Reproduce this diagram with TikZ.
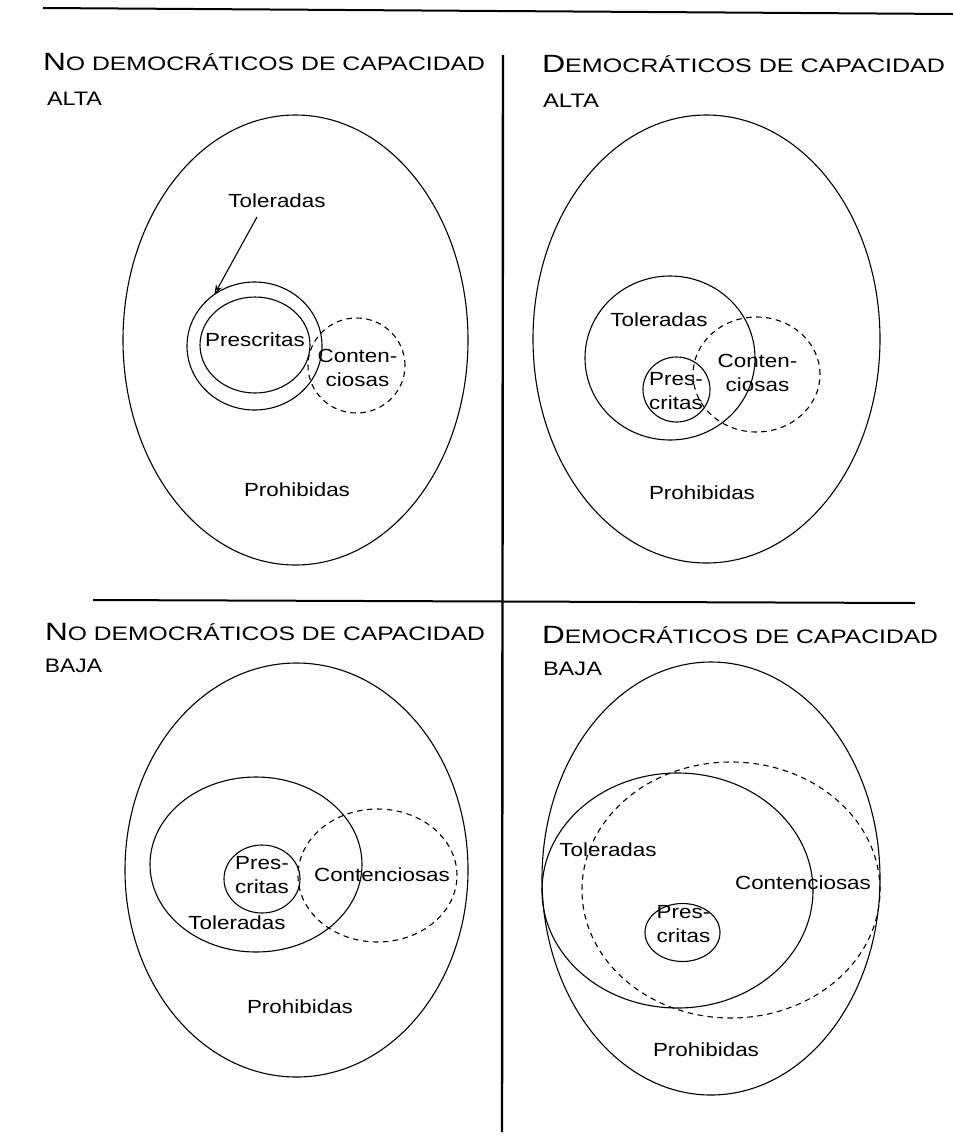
\documentclass[tikz,border=0pt]{standalone}
\usepackage{fontspec}
\setmainfont{Liberation Sans}
\usetikzlibrary{shapes.geometric,arrows.meta}
\newcommand{\capbig}[1]{{\fontsize{25}{27}\selectfont #1}}
\newcommand{\capsm}{\fontsize{19.5}{21}\selectfont}
\newcommand{\hdr}[2]{\resizebox{#1}{\height}{\capsm #2}}
\newcommand{\lbl}[1]{\scalebox{1.18}[1]{\fontsize{19}{21}\selectfont #1}}
\newcommand{\lbltwo}[2]{\scalebox{1.18}[1]{\fontsize{19}{24}\selectfont\begin{tabular}{@{}c@{}}#1\\#2\end{tabular}}}
\begin{document}
\begin{tikzpicture}[x=1pt,y=-1pt,
  ell/.style={draw, ellipse, inner sep=0pt, outer sep=0pt, line width=1.1pt},
  dsh/.style={ell, dash pattern=on 5.5pt off 4.5pt},
  txt/.style={inner sep=0pt, outer sep=0pt},
  hd/.style={inner sep=0pt, outer sep=0pt, anchor=base west},
  rule/.style={line width=2pt},
  arr/.style={-{Stealth[length=10pt,width=7pt,open]}, line width=1.1pt}]
\useasboundingbox (0,0) rectangle (953,1144);

% frame lines
\coordinate (topL) at (43,8);
\coordinate (topR) at (953,14);
\coordinate (midL) at (93,600);
\coordinate (midR) at (915,603);
\coordinate (vT) at (503,55);
\coordinate (vB) at (502,1132);
\draw[rule] (topL) -- (topR);
\draw[rule] (midL) -- (midR);
\draw[line width=2.4pt] (vT) -- (vB);

% headers
\node[hd] (h1) at (43,70) {\hdr{442pt}{\capbig{N}O DEMOCRÁTICOS DE CAPACIDAD}};
\node[hd] (h1b) at (47,105) {\hdr{55pt}{ALTA}};
\node[hd] (h2) at (542,72) {\hdr{403pt}{\capbig{D}EMOCRÁTICOS DE CAPACIDAD}};
\node[hd] (h2b) at (543,107) {\hdr{56pt}{ALTA}};
\node[hd] (h3) at (45,640) {\hdr{440pt}{\capbig{N}O DEMOCRÁTICOS DE CAPACIDAD}};
\node[hd] (h3b) at (45,672) {\hdr{57pt}{BAJA}};
\node[hd] (h4) at (542,643) {\hdr{396pt}{\capbig{D}EMOCRÁTICOS DE CAPACIDAD}};
\node[hd] (h4b) at (543,675) {\hdr{59pt}{BAJA}};

% panel 1: no democraticos, alta
\node[ell, minimum width=345pt, minimum height=450pt] (E1) at (295.5,340) {};
\node[ell, minimum width=135pt, minimum height=128pt] (T1) at (254.5,346) {};
\node[ell, minimum width=110pt, minimum height=96pt] (P1) at (255,345) {};
\node[dsh, minimum width=97pt, minimum height=95pt] (C1) at (356.5,365.5) {};
\node[txt] (tol1) at (277,201) {\lbl{Toleradas}};
\node[txt] (pre1) at (255,340) {\lbl{Prescritas}};
\node[txt] (con1) at (357.5,370) {\lbltwo{Conten-}{ciosas}};
\node[txt] (pro1) at (297,490) {\lbl{Prohibidas}};
\draw[arr] ([xshift=-20pt,yshift=-9pt]tol1.south) -- (T1.128);

% panel 2: democraticos, alta
\node[ell, minimum width=347pt, minimum height=448pt] (E2) at (706.5,339) {};
\node[ell, minimum width=170pt, minimum height=164pt] (T2) at (670,358) {};
\node[ell, minimum width=67pt, minimum height=65pt] (P2) at (676.5,389.5) {};
\node[dsh, minimum width=127pt, minimum height=115pt] (C2) at (756.5,374.5) {};
\node[txt] (tol2) at (659,320) {\lbl{Toleradas}};
\node[txt] (pre2) at (676,392.5) {\lbltwo{Pres-}{critas}};
\node[txt] (con2) at (757.5,374.5) {\lbltwo{Conten-}{ciosas}};
\node[txt] (pro2) at (702,493) {\lbl{Prohibidas}};

% panel 3: no democraticos, baja
\node[ell, minimum width=343pt, minimum height=414pt] (E3) at (296.5,870) {};
\node[ell, minimum width=212pt, minimum height=175pt] (T3) at (256,864.5) {};
\node[ell, minimum width=76pt, minimum height=68pt] (P3) at (262,879) {};
\node[dsh, minimum width=159pt, minimum height=133pt] (C3) at (377.5,875.5) {};
\node[txt] (pre3) at (262,876.5) {\lbltwo{Pres-}{critas}};
\node[txt] (tol3) at (237,923) {\lbl{Toleradas}};
\node[txt] (con3) at (382,875) {\lbl{Contenciosas}};
\node[txt] (pro3) at (300,1007) {\lbl{Prohibidas}};

% panel 4: democraticos, baja
\node[ell, minimum width=338pt, minimum height=433pt] (E4) at (711,878.5) {};
\node[ell, minimum width=271pt, minimum height=235pt] (T4) at (677.5,890.5) {};
\node[dsh, minimum width=298pt, minimum height=256pt] (C4) at (731,890) {};
\node[ell, minimum width=75pt, minimum height=58pt] (P4) at (682.5,932.5) {};
\node[txt] (tol4) at (608,850) {\lbl{Toleradas}};
\node[txt] (con4) at (803,883) {\lbl{Contenciosas}};
\node[txt] (pre4) at (683.5,926) {\lbltwo{Pres-}{critas}};
\node[txt] (pro4) at (706,1050) {\lbl{Prohibidas}};
\end{tikzpicture}
\end{document}
